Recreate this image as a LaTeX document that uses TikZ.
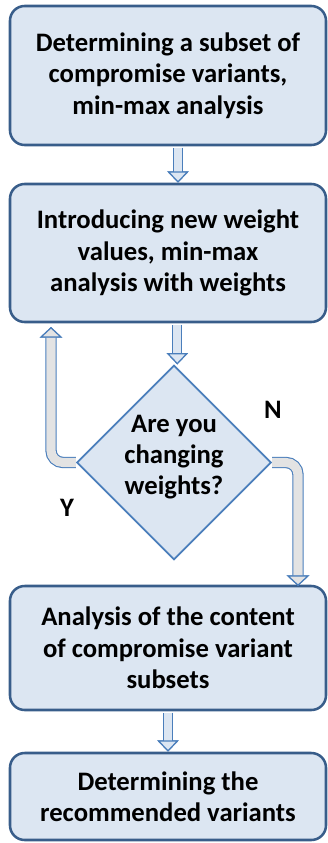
\documentclass[tikz,border=0pt]{standalone}
\usepackage{fontspec}
\setmainfont{Carlito}
\usetikzlibrary{arrows.meta,positioning,shapes.geometric}
\definecolor{boxfill}{HTML}{DCE6F2}
\definecolor{boxline}{HTML}{385D8A}
\definecolor{flowline}{HTML}{4A7EBB}
\definecolor{loopfill}{HTML}{E3E3E3}

\begin{document}
\begin{tikzpicture}[x=0.75pt, y=-0.75pt,
  stage/.style={draw=boxline, line width=1.9pt, fill=boxfill, rounded corners=11pt,
    minimum width=237pt, inner sep=0pt, align=center,
    font=\bfseries\fontsize{20}{23.5}\selectfont},
  question/.style={diamond, draw=flowline, line width=1.3pt, fill=boxfill, inner sep=0pt,
    minimum width=143pt, minimum height=143pt, align=center, text depth=11.5pt,
    font=\bfseries\fontsize{20}{23.5}\selectfont},
  answer/.style={font=\bfseries\fontsize{20}{23.5}\selectfont},
  flow/.style={preaction={draw=flowline, line width=7.5pt}, draw=boxfill, line width=5.8pt,
    -{Triangle[length=8.5pt, width=16pt, line width=0.9pt, color=flowline, fill=boxfill]}},
  loopflow/.style={preaction={draw=flowline, line width=8.5pt}, draw=loopfill, line width=6.8pt,
    rounded corners=9pt,
    -{Triangle[length=8pt, width=17pt, line width=0.9pt, color=flowline, fill=loopfill]}}]
  \useasboundingbox (0,0) rectangle (328,843);

  % --- steps ---
  \node[stage, minimum height=104.25pt] (subset) at (168,75.5)
    {Determining a subset of\\compromise variants,\\min-max analysis};
  \node[stage, minimum height=103.5pt] (weights) at (168,253)
    {Introducing new weight\\values, min-max\\analysis with weights};
  \node[question] (change) at (174,462.5) {Are you\\changing\\weights?};
  \node[stage, minimum height=93pt] (content) at (168,648)
    {Analysis of the content\\of compromise variant\\subsets};
  \node[stage, minimum height=65.25pt] (recommend) at (168,796.5)
    {Determining the\\recommended variants};

  % --- answers ---
  \node[answer] (no) at (273,410) {N};
  \node[answer] (yes) at (67,508) {Y};

  % --- ends of the loop arrows ---
  \coordinate (yesup) at (51,327);
  \coordinate (nodown) at (298,586);

  % --- arrows ---
  \draw[flow] ([xshift=7.5pt, yshift=-1pt]subset.south) -- ([xshift=7.5pt]weights.north);
  \draw[flow] ([xshift=7pt, yshift=-1pt]weights.south) -- ([xshift=7pt]weights.south |- change.north);
  \draw[flow] ([yshift=-1pt]content.south) -- (recommend.north);
  \draw[loopflow] (change.west) -| (yesup);
  \draw[loopflow] (change.east) -| (nodown);
\end{tikzpicture}
\end{document}
